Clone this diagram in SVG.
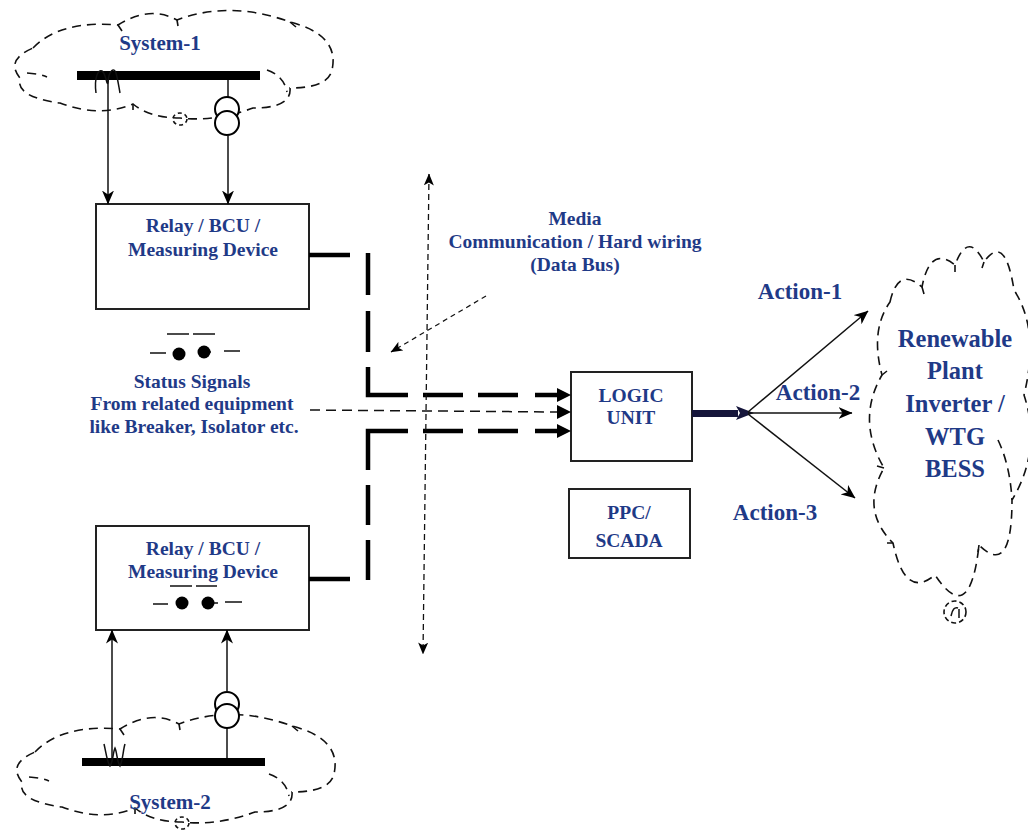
<svg xmlns="http://www.w3.org/2000/svg" width="1028" height="830" viewBox="0 0 1028 830">
<style>
.t{font-family:"Liberation Serif","Times New Roman",serif;font-weight:bold;fill:#1f3a87;text-anchor:middle}
.s{font-size:19.5px}
.a{font-size:23px}
.r{font-size:24.5px}
.sy{font-size:21px}
.cloud{fill:none;stroke:#111;stroke-width:1.6;stroke-dasharray:9 6}
.box{fill:#fff;stroke:#222;stroke-width:2}
.thin{fill:none;stroke:#111;stroke-width:1.5}
.thick{fill:none;stroke:#000;stroke-width:4.5}
</style>
<defs>
<marker id="arr" viewBox="0 0 14 12" refX="13.5" refY="6" markerWidth="14" markerHeight="12" markerUnits="userSpaceOnUse" orient="auto-start-reverse">
<path d="M0,0 L14,6 L0,12 L4,6 Z" fill="#000"/>
</marker>
<marker id="arrs" viewBox="0 0 12 10" refX="11.5" refY="5" markerWidth="12" markerHeight="10" markerUnits="userSpaceOnUse" orient="auto-start-reverse">
<path d="M0,0 L12,5 L0,10 L3,5 Z" fill="#000"/>
</marker>
<g id="cloudSys">
<path class="cloud" d="M33,48 Q60,20 118,25 Q150,5 177,20 Q230,0 290,22 Q340,35 332,70 Q328,88 290,88 Q292,108 253,108 Q215,122 180,118 Q150,118 133,104 Q100,118 60,103 Q15,97 20,78 Q5,60 33,48 Z"/>
<path class="cloud" d="M27,73 Q40,74 47,77 M267,70 Q284,76 287,92 M118,25 L122,31 M177,20 L178,26 M290,22 L296,27 M133,104 L133,110"/>
<ellipse class="cloud" cx="180" cy="119" rx="7" ry="6" style="stroke-dasharray:4 3"/>
</g>
</defs>

<g id="system1">
<use href="#cloudSys"/>
<text class="t sy" x="160" y="50">System-1</text>
<rect x="77" y="71" width="183" height="9" fill="#000"/>
<path class="thin" d="M96,93 C94,78 98,69 102,71 C106,73 107,88 108,82 C109,70 114,67 116,73 C118,80 119,88 120,93"/>
<line class="thin" x1="228" y1="80" x2="228" y2="97"/>
<circle cx="227" cy="109" r="12" fill="#fff" stroke="#000" stroke-width="2"/>
<circle cx="227" cy="123" r="12" fill="#fff" stroke="#000" stroke-width="2"/>
</g>

<g id="system2">
<use href="#cloudSys" transform="translate(2,704)"/>
<text class="t sy" x="170" y="809">System-2</text>
<rect x="82" y="758" width="183" height="8" fill="#000"/>
<path class="thin" d="M104,744 C106,752 107,762 110,766 C113,762 113,752 115,748 C117,752 117,762 120,766 C123,760 123,750 125,744"/>
<line class="thin" x1="227" y1="728" x2="227" y2="758"/>
<circle cx="227" cy="704" r="12" fill="#fff" stroke="#000" stroke-width="2"/>
<circle cx="227" cy="716" r="12" fill="#fff" stroke="#000" stroke-width="2"/>
</g>

<g id="relay1">
<rect class="box" x="96" y="204" width="213" height="105"/>
<text class="t s" x="203" y="232">Relay / BCU /</text>
<text class="t s" x="203" y="256">Measuring Device</text>
</g>

<g id="relay2">
<rect class="box" x="96" y="526" width="213" height="104"/>
<text class="t s" x="203" y="555">Relay / BCU /</text>
<text class="t s" x="203" y="578">Measuring Device</text>
<path class="thin" d="M170,586 H192 M196,586 H217 M153,604 H168 M208,603 H218 M225,602 H242"/>
<circle cx="182" cy="603" r="6.5" fill="#000"/>
<circle cx="208" cy="603" r="6.5" fill="#000"/>
</g>

<g id="status">
<path class="thin" d="M167,334 H189 M193,334 H215 M150,353 H166 M204,352 H211 M224,351 H240"/>
<circle cx="179" cy="354" r="6.5" fill="#000"/>
<circle cx="204" cy="352" r="6.5" fill="#000"/>
<text class="t s" x="192" y="388">Status Signals</text>
<text class="t s" x="192" y="410">From related equipment</text>
<text class="t s" x="194" y="433">like Breaker, Isolator etc.</text>
</g>

<g id="media">
<text class="t s" x="575" y="225">Media</text>
<text class="t s" x="575" y="248">Communication / Hard wiring</text>
<text class="t s" x="575" y="271">(Data Bus)</text>
</g>

<g id="logic">
<rect class="box" x="571" y="372" width="121" height="89"/>
<text class="t s" x="631" y="402">LOGIC</text>
<text class="t s" x="631" y="424">UNIT</text>
</g>

<g id="ppc">
<rect class="box" x="569" y="489" width="121" height="69"/>
<text class="t s" x="629" y="519">PPC/</text>
<text class="t s" x="629" y="547">SCADA</text>
</g>

<g id="renewable">
<path class="cloud" d="M890,302 Q898,266 922,287 Q930,245 955,265 Q968,230 984,262 Q1005,232 1014,290 Q1040,330 1024,395 Q1042,450 1012,500 Q1012,578 979,545 Q970,628 935,575 Q905,600 893,543 Q860,510 884,468 Q856,420 882,375 Q870,330 890,302 Z"/>
<path class="cloud" d="M998,440 Q1010,465 1012,500 M922,287 L924,294 M955,265 L955,272 M984,262 L982,268 M884,468 L877,466 M893,543 L887,543 M882,375 L887,371 M979,545 L978,552"/>
<circle class="cloud" cx="955" cy="612" r="11" style="stroke-dasharray:5 3"/>
<path class="thin" d="M951,616 Q953,606 958,608 M959,609 L959,618"/>
<text class="t r" x="955" y="347">Renewable</text>
<text class="t r" x="955" y="379">Plant</text>
<text class="t r" x="955" y="412">Inverter /</text>
<text class="t r" x="955" y="445">WTG</text>
<text class="t r" x="955" y="477">BESS</text>
</g>

<g id="connectors">
<!-- measurement feeds -->
<line class="thin" x1="108" y1="80" x2="108" y2="204" marker-end="url(#arr)"/>
<line class="thin" x1="228" y1="135" x2="228" y2="204" marker-end="url(#arr)"/>
<line class="thin" x1="112" y1="758" x2="112" y2="630" marker-end="url(#arr)"/>
<line class="thin" x1="227" y1="692" x2="227" y2="630" marker-end="url(#arr)"/>
<!-- thick dashed data links -->
<path class="thick" d="M309,255 H350 M368,253 V295 M368,311 V352 M368,367 V395 H408 M423,395 H463 M478,395 H518 M535,395 H558"/>
<polygon points="557,388 571,395 557,402" fill="#000"/>
<path class="thick" d="M309,579 H350 M368,580 V540 M368,525 V485 M368,470 V431 H408 M423,431 H463 M478,431 H518 M535,431 H558"/>
<polygon points="557,424 571,431 557,438" fill="#000"/>
<path class="thin" d="M310,410 L558,412" style="stroke-dasharray:10 6"/>
<polygon points="557,405 571,412 557,419" fill="#000"/>
<!-- media boundary -->
<path class="thin" d="M429,174 L423,654" style="stroke-dasharray:6 4;stroke-width:1.3" marker-start="url(#arrs)" marker-end="url(#arrs)"/>
<path class="thin" d="M486,296 L391,352" style="stroke-dasharray:5 4;stroke-width:1.2" marker-end="url(#arrs)"/>
<!-- output -->
<rect x="692" y="410" width="46" height="7" fill="#15153a"/>
<polygon points="736,406 754,413 736,420 740,413" fill="#15153a"/>
<line class="thin" x1="748" y1="412" x2="868" y2="311" marker-end="url(#arr)"/>
<line class="thin" x1="748" y1="413" x2="852" y2="413" marker-end="url(#arr)"/>
<line class="thin" x1="748" y1="414" x2="855" y2="498" marker-end="url(#arr)"/>
</g>

<g id="actions">
<text class="t a" x="800" y="299">Action-1</text>
<text class="t a" x="818" y="400">Action-2</text>
<text class="t a" x="775" y="520">Action-3</text>
</g>
</svg>
